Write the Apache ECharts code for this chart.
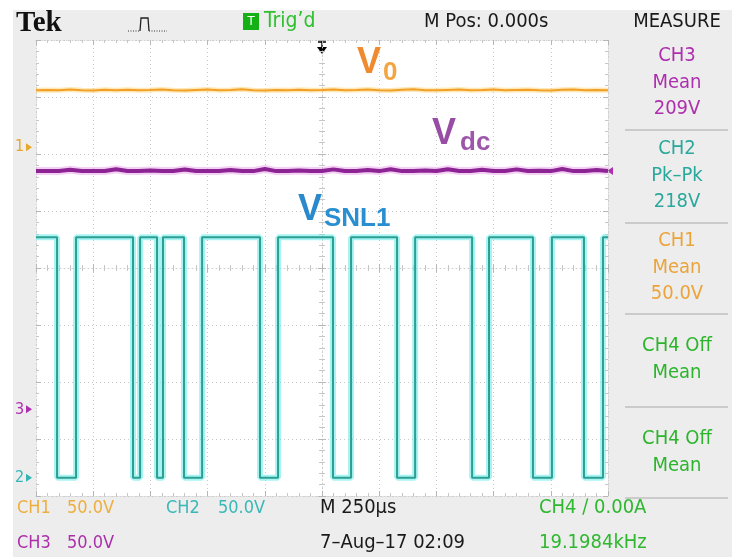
<!DOCTYPE html>
<html>
<head>
<meta charset="utf-8">
<script src="https://cdn.jsdelivr.net/npm/echarts@6/dist/echarts.min.js"></script>
<style>
  html, body { margin: 0; padding: 0; background: #ffffff; }
  #scope { width: 732px; height: 557px; }
</style>
</head>
<body>
<div id="scope"></div>
<script>
// Time base: 250 µs per division, 10 divisions, trigger at the centre (M Pos 0.000s)
const timeMin = -1250;
const timeMax = 1250;
const timeDiv = 250;
const sampleStep = 50;              // µs between stored samples of CH1 / CH3

// Vertical: 8 divisions, every channel at 50.0 V/div
const voltsPerDiv = 50;
const ch1Ground = 2.12;             // ground marker positions, in divisions from centre
const ch2Ground = -3.68;
const ch3Ground = -2.48;

// CH1 – output voltage V0 (V), one sample every 50 µs
const v0Volts = [
  49.9, 50.2, 50.0, 50.5, 50.0, 49.8, 50.3, 50.0, 50.4, 49.9,
  50.1, 50.6, 50.0, 49.8, 50.2, 50.5, 49.9, 50.1, 50.7, 50.0,
  49.8, 50.2, 50.0, 50.4, 50.0, 50.1, 50.6, 49.9, 50.1, 50.5,
  50.0, 49.8, 50.3, 50.7, 50.0, 49.9, 50.2, 50.5, 50.0, 50.1,
  50.6, 49.9, 50.2, 50.4, 50.0, 49.8, 50.3, 50.6, 50.0, 50.1, 50.0
];

// CH3 – DC-link voltage Vdc (V), one sample every 50 µs
const vdcVolts = [
  209.0, 209.0, 209.0, 210.2, 209.0, 209.0, 209.0, 210.6, 209.0, 209.0,
  209.6, 209.0, 209.0, 210.4, 209.0, 209.0, 209.0, 210.0, 209.0, 209.0,
  210.8, 209.0, 209.0, 209.6, 209.0, 209.0, 210.5, 209.0, 209.0, 210.0,
  209.0, 210.7, 209.0, 209.0, 209.5, 209.0, 210.6, 209.0, 209.0, 210.1,
  209.0, 209.0, 210.5, 209.0, 209.4, 209.0, 210.8, 209.0, 209.0, 209.9, 209.0
];

// CH2 – switch voltage VSNL1: levels (V) and switching instants (µs)
const snlHigh = 211;
const snlLow = 0;
const snlEdges = [
  -1158, -1075, -826, -795, -721, -695, -603, -524, -271, -192,
  48, 127, 328, 407, 656, 730, 922, 1005, 1145, 1228
];

// Measurement panel and status texts
const measureBlocks = [
  { lines: ['CH3', 'Mean', '209V'], color: '#ae2fae' },
  { lines: ['CH2', 'Pk\u2013Pk', '218V'], color: '#2aa89c' },
  { lines: ['CH1', 'Mean', '50.0V'], color: '#eba43a' },
  { lines: ['CH4 Off', 'Mean'], color: '#2cb52c' },
  { lines: ['CH4 Off', 'Mean'], color: '#2cb52c' }
];

const sampleTimes = v0Volts.map((_, i) => timeMin + i * sampleStep);
const toDiv = (volts, ground) => ground + volts / voltsPerDiv;

const v0Data = sampleTimes.map((t, i) => [t, toDiv(v0Volts[i], ch1Ground)]);
const vdcData = sampleTimes.map((t, i) => [t, toDiv(vdcVolts[i], ch3Ground)]);

const snlData = [[timeMin, toDiv(snlHigh, ch2Ground)]];
snlEdges.forEach((t, i) => {
  snlData.push([t, toDiv(i % 2 === 0 ? snlLow : snlHigh, ch2Ground)]);
});
snlData.push([timeMax, toDiv(snlHigh, ch2Ground)]);

const FONT = '"DejaVu Sans Condensed", "Liberation Sans", sans-serif';
const gridDots = { color: '#c8c8c8', width: 1, type: [1, 3] };

function frameX(position) {
  return {
    type: 'value', min: timeMin, max: timeMax, interval: timeDiv, position: position,
    axisLine: { show: true, onZero: false, lineStyle: { color: '#d0d0d0', type: [1, 2] } },
    axisTick: { show: true, inside: true, length: 5, lineStyle: { color: '#b6b6b6' } },
    minorTick: { show: true, splitNumber: 5, length: 3, lineStyle: { color: '#c6c6c6' } },
    axisLabel: { show: false },
    splitLine: { show: position === 'bottom', lineStyle: gridDots }
  };
}
function centreX(inside) {
  return {
    type: 'value', min: timeMin, max: timeMax, interval: timeDiv, position: 'bottom',
    axisLine: { show: inside, onZero: true, onZeroAxisIndex: 0, lineStyle: { color: '#cdcdcd', type: [1, 3] } },
    axisTick: { show: true, inside: inside, length: 4, lineStyle: { color: '#b8b8b8' } },
    minorTick: { show: true, splitNumber: 5, length: 3, lineStyle: { color: '#c6c6c6' } },
    axisLabel: { show: false }, splitLine: { show: false }
  };
}
function frameY(position) {
  return {
    type: 'value', min: -4, max: 4, interval: 1, position: position,
    axisLine: { show: true, onZero: false, lineStyle: { color: '#d0d0d0', type: [1, 2] } },
    axisTick: { show: true, inside: true, length: 5, lineStyle: { color: '#b6b6b6' } },
    minorTick: { show: true, splitNumber: 5, length: 3, lineStyle: { color: '#c6c6c6' } },
    axisLabel: { show: false },
    splitLine: { show: position === 'left', lineStyle: gridDots }
  };
}
function centreY(inside) {
  return {
    type: 'value', min: -4, max: 4, interval: 1, position: 'left',
    axisLine: { show: inside, onZero: true, onZeroAxisIndex: 0, lineStyle: { color: '#cdcdcd', type: [1, 3] } },
    axisTick: { show: true, inside: inside, length: 4, lineStyle: { color: '#b8b8b8' } },
    minorTick: { show: true, splitNumber: 5, length: 3, lineStyle: { color: '#c6c6c6' } },
    axisLabel: { show: false }, splitLine: { show: false }
  };
}

function traceSeries(data, color, width, glow, glowWidth, step) {
  const base = { type: 'line', data: data, symbol: 'none', silent: true, animation: false, step: step || false };
  return [
    Object.assign({}, base, { lineStyle: { color: glow, width: glowWidth }, z: 2 }),
    Object.assign({}, base, { lineStyle: { color: color, width: width }, z: 3 })
  ];
}

const chart = echarts.init(document.getElementById('scope'), null, { renderer: 'canvas' });

chart.setOption({
  backgroundColor: '#ffffff',
  animation: false,
  grid: { left: 36, top: 40, width: 572, height: 456, show: true, backgroundColor: '#ffffff', borderWidth: 0 },
  xAxis: [frameX('bottom'), frameX('top'), centreX(true), centreX(false)],
  yAxis: [frameY('left'), frameY('right'), centreY(true), centreY(false)],
  series: [].concat(
    traceSeries(v0Data, '#f0a028', 2, 'rgba(255,214,120,0.55)', 5),
    traceSeries(vdcData, '#8c2494', 4, 'rgba(236,170,236,0.55)', 8),
    traceSeries(snlData, '#2e9e90', 2, 'rgba(110,236,236,0.6)', 6, 'end')
  )
});

// Screen furniture: bezel, status line, measurement menu, labels
const g = [];
g.push({ type: 'rect', z: -10, shape: { x: 13, y: 10, width: 719, height: 547 }, style: { fill: '#ededed' } });
g.push({ type: 'rect', z: -5, shape: { x: 36, y: 40, width: 572, height: 456 }, style: { fill: '#ffffff' } });

// status line
g.push({ type: 'text', style: { text: 'Tek', x: 16, y: 38, fill: '#111', font: 'bold 29px "Liberation Serif", serif', verticalAlign: 'bottom' } });
g.push({ type: 'polyline', shape: { points: [[128, 31], [140, 31]] }, style: { stroke: '#333', lineWidth: 1, lineDash: [1, 1.5] } });
g.push({ type: 'polyline', shape: { points: [[140, 31], [141, 18], [148, 18], [149, 31]] }, style: { stroke: '#222', lineWidth: 1.3, fill: null } });
g.push({ type: 'polyline', shape: { points: [[149, 31], [167, 31]] }, style: { stroke: '#333', lineWidth: 1, lineDash: [1, 1.5] } });
g.push({ type: 'rect', shape: { x: 243, y: 13, width: 16, height: 17 }, style: { fill: '#14b014' } });
g.push({ type: 'text', style: { text: 'T', x: 251, y: 22, fill: '#ffffff', font: '13px ' + FONT, align: 'center', verticalAlign: 'middle' } });
g.push({ type: 'text', style: { text: 'Trig\u2019d', x: 264, y: 22, fill: '#2fc02f', font: '21px ' + FONT, verticalAlign: 'middle' } });
g.push({ type: 'text', style: { text: 'M Pos: 0.000s', x: 424, y: 22, fill: '#1a1a1a', font: '20px ' + FONT, verticalAlign: 'middle' } });
g.push({ type: 'text', style: { text: 'MEASURE', x: 677, y: 22, fill: '#1a1a1a', font: '20px ' + FONT, align: 'center', verticalAlign: 'middle' } });

// trigger position marker
g.push({ type: 'polyline', shape: { points: [[318, 42], [326, 42]] }, style: { stroke: '#000', lineWidth: 1.5 } });
g.push({ type: 'polyline', shape: { points: [[322, 40], [322, 50]] }, style: { stroke: '#000', lineWidth: 1.5 } });
g.push({ type: 'polygon', shape: { points: [[317, 47], [327, 47], [322, 54]] }, style: { fill: '#000' } });

// measurement menu
const blockTops = [56, 149, 241, 346, 439];
const separators = [130, 223, 314, 407, 498];
measureBlocks.forEach((b, bi) => {
  b.lines.forEach((s, li) => {
    g.push({ type: 'text', style: { text: s, x: 677, y: blockTops[bi] + li * 26.5, fill: b.color, font: '20px ' + FONT, align: 'center', verticalAlign: 'middle' } });
  });
});
separators.forEach((y) => {
  g.push({ type: 'line', shape: { x1: 625, y1: y, x2: 728, y2: y }, style: { stroke: '#a9a9a9', lineWidth: 1 } });
});

// bottom status rows: [text, x, y, colour, font size]
const bottom = [
  ['CH1', 17, 508, '#eeae3e', 18], ['50.0V', 67, 508, '#eeae3e', 18],
  ['CH2', 166, 508, '#38b8b6', 18], ['50.0V', 218, 508, '#38b8b6', 18],
  ['M 250\u00b5s', 320, 508, '#1a1a1a', 20], ['CH4 \u2215 0.00A', 539, 508, '#2fb82f', 20],
  ['CH3', 17, 543, '#ab2fab', 18], ['50.0V', 67, 543, '#ab2fab', 18],
  ['7\u2013Aug\u201317 02:09', 320, 543, '#1a1a1a', 20], ['19.1984kHz', 539, 543, '#2fb82f', 20]
];
bottom.forEach(([s, x, y, c, fs]) => {
  g.push({ type: 'text', style: { text: s, x: x, y: y, fill: c, font: fs + 'px ' + FONT, verticalAlign: 'middle' } });
});

// channel ground markers on the left edge
[[ '1', ch1Ground, '#e6a72a' ], [ '3', ch3Ground, '#b02cb0' ], [ '2', ch2Ground, '#34b6b6' ]].forEach(([n, gd, c]) => {
  const y = chart.convertToPixel({ gridIndex: 0 }, [timeMin, gd])[1];
  g.push({ type: 'text', style: { text: n, x: 15, y: y, fill: c, font: '16px ' + FONT, verticalAlign: 'middle' } });
  g.push({ type: 'polygon', shape: { points: [[26, y - 4], [32, y], [26, y + 4]] }, style: { fill: c } });
});
// CH3 trigger level marker on the right edge
const trigY = chart.convertToPixel({ gridIndex: 0 }, [timeMax, toDiv(209, ch3Ground)])[1];
g.push({ type: 'polygon', shape: { points: [[613, trigY - 4], [607, trigY], [613, trigY + 4]] }, style: { fill: '#b02cb0' } });

// trace names
const BOLD = 'bold 36px "Liberation Sans", sans-serif';
const SUB = 'bold 26px "Liberation Sans", sans-serif';
g.push({ type: 'text', z: 10, style: { text: 'V', x: 357, y: 81, fill: '#ef8a2e', font: BOLD, verticalAlign: 'bottom' } });
g.push({ type: 'text', z: 10, style: { text: '0', x: 383, y: 86, fill: '#f3a542', font: SUB, verticalAlign: 'bottom' } });
g.push({ type: 'text', z: 10, style: { text: 'V', x: 432, y: 152, fill: '#984da4', font: BOLD, verticalAlign: 'bottom' } });
g.push({ type: 'text', z: 10, style: { text: 'dc', x: 460, y: 156, fill: '#9d56a9', font: SUB, verticalAlign: 'bottom' } });
g.push({ type: 'text', z: 10, style: { text: 'V', x: 298, y: 228, fill: '#2a88cc', font: BOLD, verticalAlign: 'bottom' } });
g.push({ type: 'text', z: 10, style: { text: 'SNL1', x: 324, y: 232, fill: '#2a8fd0', font: SUB, verticalAlign: 'bottom' } });

chart.setOption({ graphic: { elements: g } });
</script>
</body>
</html>
